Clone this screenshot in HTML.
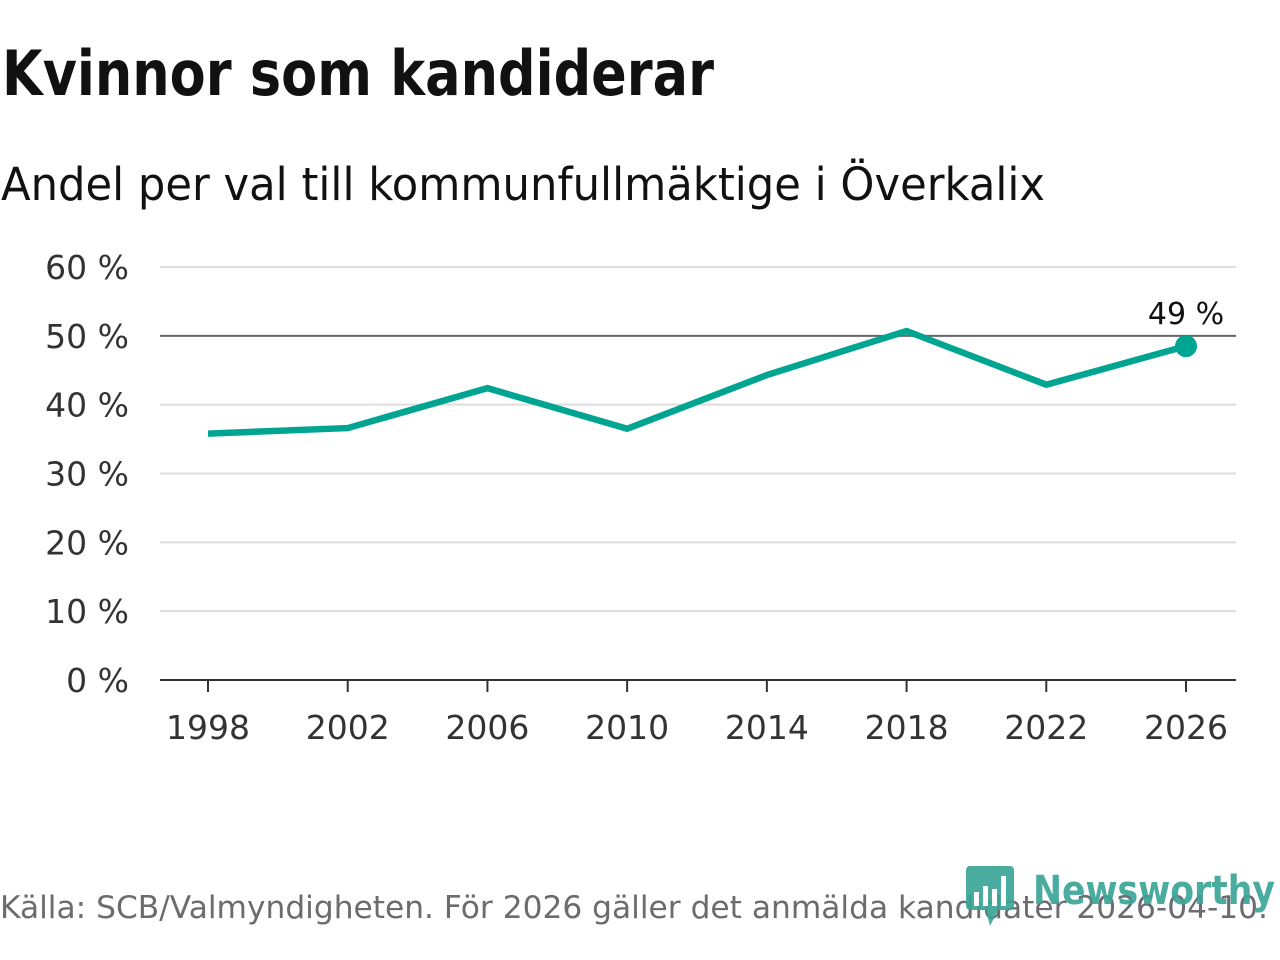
<!DOCTYPE html>
<html><head><meta charset="utf-8"><style>
html,body{margin:0;padding:0;background:#fff;width:1280px;height:960px;overflow:hidden}
svg text{font-family:"DejaVu Sans","Liberation Sans",sans-serif}
</style></head><body>
<svg id="chart" width="1280" height="960" viewBox="0 0 1280 960">
<text x="2" y="95" font-size="62" font-weight="bold" fill="#111" textLength="712" lengthAdjust="spacingAndGlyphs">Kvinnor som kandiderar</text>
<text x="1" y="200" font-size="45" fill="#111" textLength="1044" lengthAdjust="spacingAndGlyphs">Andel per val till kommunfullmäktige i Överkalix</text>
<g id="grid"></g>
<g id="xaxis"></g>
<g id="series"></g>
<text x="0" y="918" font-size="31" fill="#6b6b70" textLength="1268" lengthAdjust="spacingAndGlyphs">Källa: SCB/Valmyndigheten. För 2026 gäller det anmälda kandidater 2026-04-10.</text>
<g opacity="0.92">
<path d="M970 866 h40 a4 4 0 0 1 4 4 v36 a4 4 0 0 1 -4 4 h-12 l-8 16 l-4 -16 h-16 a4 4 0 0 1 -4 -4 v-36 a4 4 0 0 1 4 -4z" fill="#3aa597"/>
<rect x="974" y="892" width="5" height="14" fill="#fff"/><rect x="983" y="886" width="5" height="20" fill="#fff"/><rect x="992" y="889" width="5" height="17" fill="#fff"/><rect x="1001" y="876" width="5" height="30" fill="#fff"/>
<text x="1033" y="904" font-size="40" font-weight="bold" fill="#3aa597" textLength="242" lengthAdjust="spacingAndGlyphs">Newsworthy</text>
</g>
</svg>
<script>
const years=[1998,2002,2006,2010,2014,2018,2022,2026];
const values=[35.8,36.6,42.4,36.5,44.3,50.7,42.9,48.5];
const yTicks=[0,10,20,30,40,50,60];
const yTickLabels=["0 %","10 %","20 %","30 %","40 %","50 %","60 %"];
const lastLabel="49 %";
const NS="http://www.w3.org/2000/svg";
const x=v=>208+(v-1998)*(1186-208)/28;
const y=v=>680-v*(680-267)/60;
function el(t,a,p){const e=document.createElementNS(NS,t);for(const k in a)e.setAttribute(k,a[k]);p.appendChild(e);return e;}
const grid=document.getElementById('grid'),xa=document.getElementById('xaxis'),se=document.getElementById('series');
yTicks.forEach((t,i)=>{
 if(t!==0){const l=el('line',{x1:160,x2:1236,y1:y(t),y2:y(t),stroke:t===50?'#666':'#ddd','stroke-width':2},grid);
 
 }
 const tx=el('text',{x:129,y:y(t)+12,'font-size':33,fill:'#333','text-anchor':'end'},grid);tx.textContent=yTickLabels[i];
 
 
});
const ax=el('line',{x1:160,x2:1236,y1:680,y2:680,stroke:'#333','stroke-width':2},xa);


years.forEach(yr=>{
 const tk=el('line',{x1:x(yr),x2:x(yr),y1:680,y2:692,stroke:'#333','stroke-width':2},xa);
 
 
 const tx=el('text',{x:x(yr),y:739,'font-size':33,fill:'#333','text-anchor':'middle'},xa);tx.textContent=yr;
 
 
});
const pl=el('polyline',{points:years.map((yr,i)=>x(yr)+','+y(values[i])).join(' '),fill:'none',stroke:'#00a592','stroke-width':6.5,'stroke-linejoin':'miter'},se);


const n=years.length-1;
const dot=el('circle',{cx:x(years[n]),cy:y(values[n]),r:11,fill:'#00a592'},se);


const lb=el('text',{x:x(years[n]),y:y(values[n])-22,'font-size':30,fill:'#111','text-anchor':'middle'},se);lb.textContent=lastLabel;


</script>
</body></html>
